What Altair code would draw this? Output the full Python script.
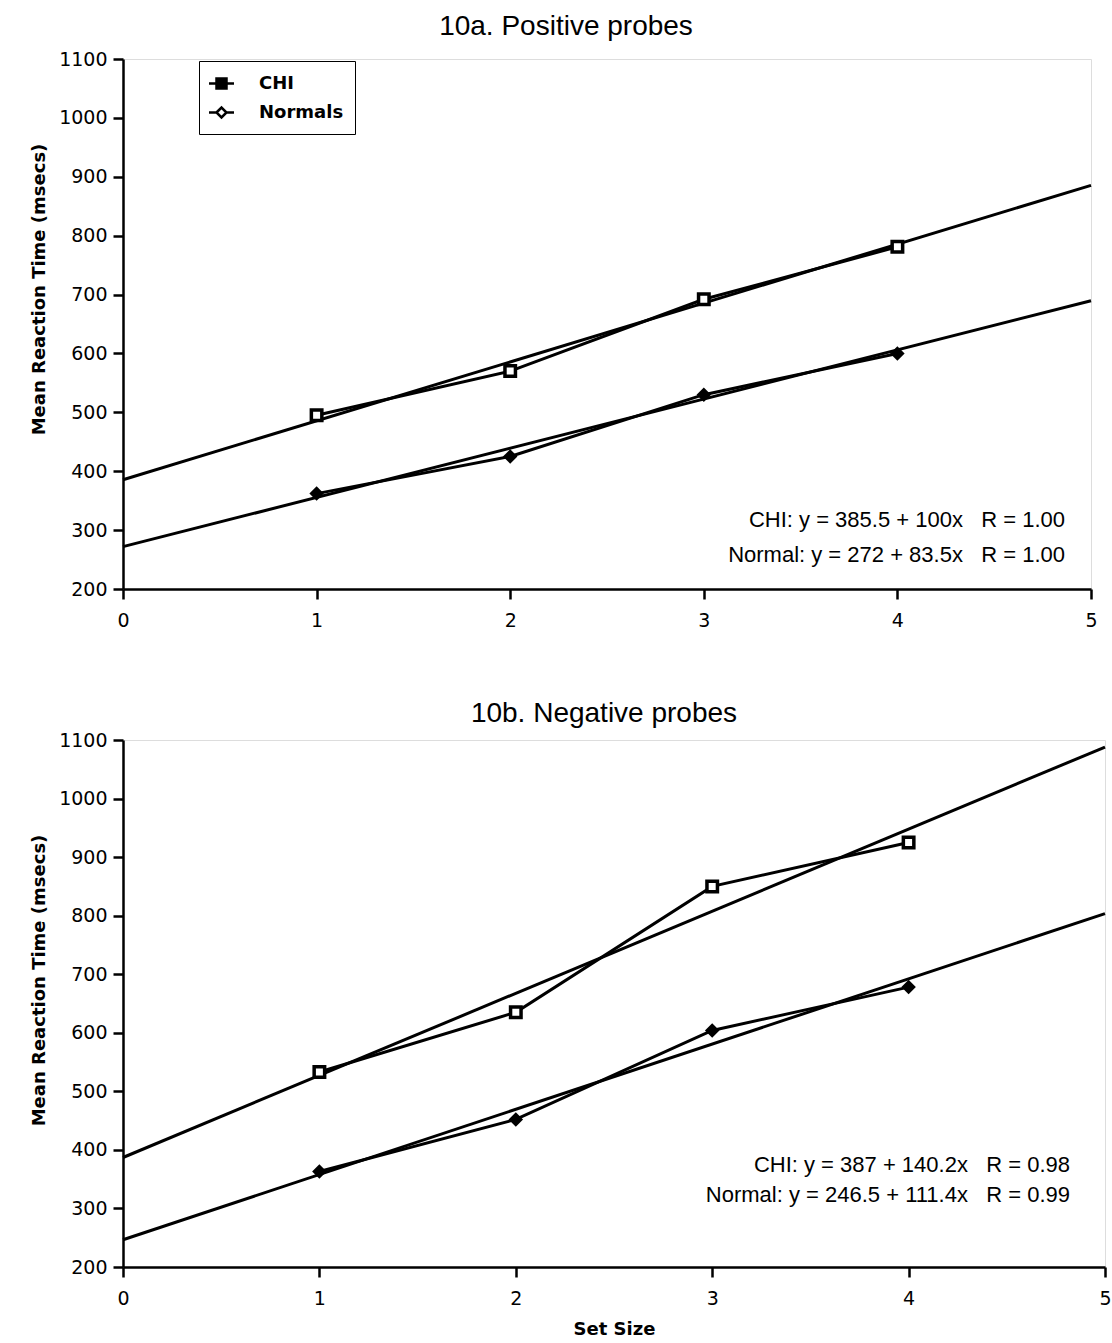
import altair as alt
import pandas as pd

# Memory-scanning reaction times by set size, CHI group vs normal controls
set_sizes = [1, 2, 3, 4]
groups = ["CHI", "Normals"]

chi_positive = [495, 570, 692, 781]
normals_positive = [362, 425, 530, 600]
chi_negative = [533, 635, 850, 925]
normals_negative = [363, 452, 604, 678]

# Fitted regression lines (intercept, slope) as stated in the panel notes
fit_positive = {"CHI": (385.5, 100.0), "Normals": (272.0, 83.5)}
fit_negative = {"CHI": (387.0, 140.2), "Normals": (246.5, 111.4)}

GAP = "\u00a0\u00a0\u00a0"
eq_positive = ["CHI: y = 385.5 + 100x" + GAP + "R = 1.00",
               "Normal: y = 272 + 83.5x" + GAP + "R = 1.00"]
eq_negative = ["CHI: y = 387 + 140.2x" + GAP + "R = 0.98",
               "Normal: y = 246.5 + 111.4x" + GAP + "R = 0.99"]

x_ticks = [0, 0.5, 1, 1.5, 2, 2.5, 3, 3.5, 4, 4.5, 5]
y_ticks = list(range(200, 1101, 50))

NUM_FONT = "DejaVu Sans"
TEXT_FONT = "Liberation Sans"

# Legend glyphs: a short line through the marker
PATH_CHI = "M-1.25,0L1.25,0M-0.5,-0.5L0.5,-0.5L0.5,0.5L-0.5,0.5Z"
PATH_NORM = "M-1.25,0L-0.5,0M0.5,0L1.25,0M-0.5,0L0,-0.5L0.5,0L0,0.5Z"


def panel(title, chi_vals, norm_vals, fits, eq_lines, eq_x, eq_y,
          width, height, show_legend, x_title, title_offset, title_dx,
          ytitle_pos):
    obs = pd.DataFrame({
        "set": set_sizes * 2,
        "rt": chi_vals + norm_vals,
        "group": ["CHI"] * 4 + ["Normals"] * 4,
    })
    fit_rows = []
    for g in groups:
        a, b = fits[g]
        for xv in (0, 5):
            fit_rows.append({"set": xv, "rt": a + b * xv, "group": g})
    fit_df = pd.DataFrame(fit_rows)
    eq_df = pd.DataFrame({"x": [eq_x, eq_x], "y": eq_y, "text": eq_lines})

    x_enc = alt.X(
        "set:Q",
        scale=alt.Scale(domain=[0, 5], nice=False, zero=False),
        axis=alt.Axis(
            values=x_ticks,
            format="d",
            title=x_title if x_title else None,
            labelExpr="datum.value % 1 == 0 ? datum.label : ''",
            tickSize={"expr": "datum.value % 1 == 0 ? 10 : 6"},
            grid=False,
            domainColor="black", domainWidth=2.5,
            tickColor="black", tickWidth=2.5,
            labelFont=NUM_FONT, labelFontSize=19, labelColor="black",
            labelPadding=12, labelFlush=False,
            titleFont=NUM_FONT, titleFontSize=18, titleFontWeight="bold",
            titleColor="black", titlePadding=12,
        ),
    )
    y_enc = alt.Y(
        "rt:Q",
        scale=alt.Scale(domain=[200, 1100], nice=False, zero=False),
        axis=alt.Axis(
            values=y_ticks,
            format="d",
            title="Mean Reaction Time (msecs)",
            titleY=ytitle_pos,
            labelExpr="datum.value % 100 == 0 ? datum.label : ''",
            tickSize={"expr": "datum.value % 100 == 0 ? 10 : 6"},
            grid=False,
            domainColor="black", domainWidth=2.5,
            tickColor="black", tickWidth=2.5,
            labelFont=NUM_FONT, labelFontSize=19, labelColor="black",
            labelPadding=6,
            titleFont=NUM_FONT, titleFontSize=18, titleFontWeight="bold",
            titleColor="black", titlePadding=10,
        ),
    )

    data_lines = alt.Chart(obs).mark_line(
        color="black", strokeWidth=3
    ).encode(x=x_enc, y=y_enc, detail="group:N")

    fit_lines = alt.Chart(fit_df).mark_line(
        color="black", strokeWidth=3
    ).encode(x="set:Q", y="rt:Q", detail="group:N")

    chi_pts = alt.Chart(obs).transform_filter(
        alt.datum.group == "CHI"
    ).mark_point(
        shape="square", filled=False, fill="white", stroke="black",
        strokeWidth=3.5, size=110, opacity=1
    ).encode(x="set:Q", y="rt:Q")

    norm_pts = alt.Chart(obs).transform_filter(
        alt.datum.group == "Normals"
    ).mark_point(
        shape="diamond", filled=True, color="black", size=210, opacity=1
    ).encode(x="set:Q", y="rt:Q")

    eq_text = alt.Chart(eq_df).mark_text(
        align="right", baseline="middle", font=TEXT_FONT, fontSize=22,
        color="black"
    ).encode(x="x:Q", y="y:Q", text="text:N")

    layers = [fit_lines, data_lines, chi_pts, norm_pts, eq_text]

    if show_legend:
        legend = alt.Legend(
            title=None, orient="none", legendX=76, legendY=2,
            strokeColor="black", padding=11,
            labelFont=NUM_FONT, labelFontSize=18, labelFontWeight="bold",
            labelColor="black", labelOffset=26, rowPadding=7,
            symbolStrokeColor="black", symbolStrokeWidth=2.5,
            symbolSize=400,
        )
        key_df = pd.DataFrame({"group": groups})
        key = alt.Chart(key_df).mark_point(
            clip=True, opacity=1, strokeWidth=2.5
        ).encode(
            x=alt.value(-200), y=alt.value(-200),
            shape=alt.Shape("group:N", scale=alt.Scale(
                domain=groups, range=[PATH_CHI, PATH_NORM]), legend=legend),
            fill=alt.Fill("group:N", scale=alt.Scale(
                domain=groups, range=["black", "white"]), legend=legend),
            stroke=alt.Stroke("group:N", scale=alt.Scale(
                domain=groups, range=["black", "black"]), legend=legend),
        )
        layers.append(key)

    return alt.layer(*layers).properties(
        width=width, height=height,
        title=alt.TitleParams(title, font=TEXT_FONT, fontSize=28,
                              fontWeight="normal", color="black",
                              offset=title_offset, dx=title_dx),
    )


top = panel("10a. Positive probes", chi_positive, normals_positive,
            fit_positive, eq_positive, 4.866, [317, 258],
            968, 530, True, None, 9, -41, 230)
bottom = panel("10b. Negative probes", chi_negative, normals_negative,
               fit_negative, eq_negative, 4.822, [374, 323],
               982, 527, False, "Set Size", 3, -10, 240)

chart = alt.vconcat(top, bottom, spacing=68).properties(
    padding={"left": 30, "top": 12, "right": 0, "bottom": 0}
).configure_view(stroke=None).configure_legend(
    strokeWidth=2.5
).configure(background="white")

chart.save("out.html", embed_options={"renderer": "svg", "actions": False})
